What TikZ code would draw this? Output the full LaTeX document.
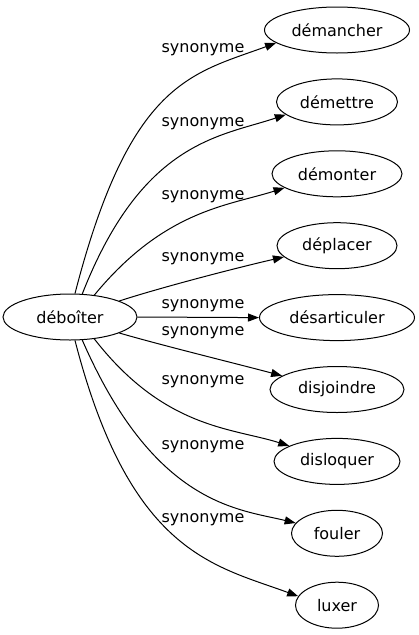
\documentclass[tikz,border=0pt]{standalone}
\usepackage{fontspec}
\setmainfont{DejaVu Sans}
\usetikzlibrary{shapes.geometric,arrows.meta}
\begin{document}
\begin{tikzpicture}[x=1pt,y=-1pt,
  word/.style={ellipse,draw,line width=1pt,inner sep=0pt,minimum height=46pt,font=\fontsize{16}{19}\selectfont},
  lab/.style={inner sep=0pt,font=\fontsize{16}{19}\selectfont},
  edge/.style={line width=1pt,-{Triangle[length=11pt,width=8pt]}}]
\useasboundingbox (0,0) rectangle (418,635);
\node[word,minimum width=134pt] (src) at (70,317) {déboîter};
\node[word,minimum width=145pt] (t1) at (337,30) {démancher};
\node[word,minimum width=121pt] (t2) at (337,101.9) {démettre};
\node[word,minimum width=130pt] (t3) at (337,173.8) {démonter};
\node[word,minimum width=120pt] (t4) at (337,245.7) {déplacer};
\node[word,minimum width=155pt] (t5) at (337,317.6) {désarticuler};
\node[word,minimum width=134pt] (t6) at (337,389.5) {disjoindre};
\node[word,minimum width=126pt] (t7) at (337,461.4) {disloquer};
\node[word,minimum width=91pt] (t8) at (337,533.3) {fouler};
\node[word,minimum width=83pt] (t9) at (337,605.2) {luxer};
\draw[edge] (src.78) .. controls +(55,-213) and +(-84.5,31) .. (t1.192);
\draw[edge] (src.62) .. controls +(60,-153) and +(-66,22) .. (t2.194);
\draw[edge] (src.42) .. controls +(70,-85) and +(-57,18) .. (t3.195);
\draw[edge] (src.18) .. controls +(43,-14) and +(-44,10) .. (t4.192);
\draw[edge] (src.east) -- (t5.west);
\draw[edge] (src.-18) .. controls +(45,13) and +(-45,-12) .. (t6.166);
\draw[edge] (src.-42) .. controls +(70,90) and +(-57,-18) .. (t7.162);
\draw[edge] (src.-62) .. controls +(72,165) and +(-58,-14) .. (t8.166);
\draw[edge] (src.-78) .. controls +(55,213) and +(-84.5,-31) .. (t9.167);
\node[lab] (l1) at (203,50) {synonyme};
\node[lab] (l2) at (203,124) {synonyme};
\node[lab] (l3) at (203,197) {synonyme};
\node[lab] (l4) at (203,259) {synonyme};
\node[lab] (l5) at (203,306) {synonyme};
\node[lab] (l6) at (203,333) {synonyme};
\node[lab] (l7) at (203,382) {synonyme};
\node[lab] (l8) at (203,447) {synonyme};
\node[lab] (l9) at (203,520) {synonyme};
\end{tikzpicture}
\end{document}
